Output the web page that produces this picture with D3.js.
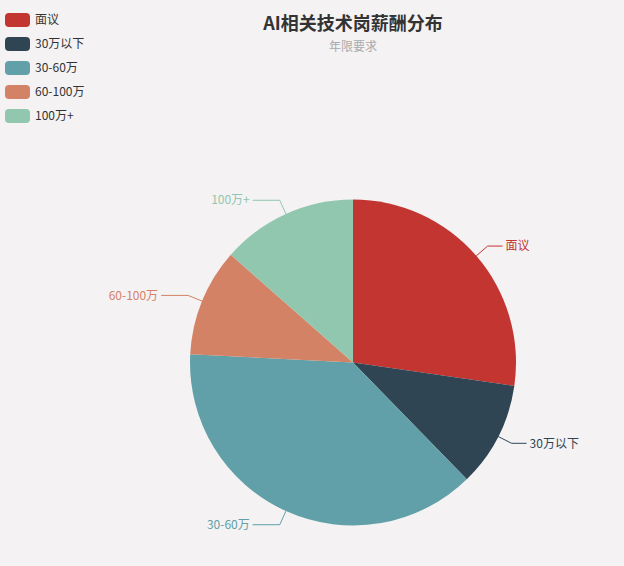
<!DOCTYPE html>
<html>
<head>
<meta charset="utf-8">
<script src="https://cdn.jsdelivr.net/npm/d3@7"></script>
<style>
  html, body { margin: 0; padding: 0; background: #f4f2f3; }
  svg { display: block; font-family: "Microsoft YaHei", "Noto Sans CJK SC", sans-serif; }
</style>
</head>
<body>
<div class="chartContainer"></div>
<script>
// Data
var categories = ["面议", "30万以下", "30-60万", "60-100万", "100万+"];
var values = [27.3, 10.4, 38.1, 10.7, 13.5];
var colors = ["#c23531", "#2f4554", "#61a0a8", "#d48265", "#91c7ae"];

const W = 624;
const H = 566;
const CX = 353;
const CY = 362.5;
const R = 163;

const svg = d3.select(".chartContainer")
  .append("svg")
  .attr("width", W)
  .attr("height", H);

svg.append("rect").attr("width", W).attr("height", H).attr("fill", "#f4f2f3");

// Title
svg.append("text")
  .attr("x", 353).attr("y", 30)
  .attr("text-anchor", "middle")
  .attr("font-size", 18).attr("font-weight", "bold")
  .attr("fill", "#333")
  .text("AI相关技术岗薪酬分布");
svg.append("text")
  .attr("x", 353).attr("y", 51)
  .attr("text-anchor", "middle")
  .attr("font-size", 12)
  .attr("fill", "#aaa")
  .text("年限要求");

// Legend
var legend = svg.append("g").attr("id", "legend");
legend.selectAll("rect")
  .data(categories)
  .enter()
  .append("rect")
  .attr("x", 5)
  .attr("y", (d, i) => 13 + i * 24)
  .attr("width", 25).attr("height", 14)
  .attr("rx", 4)
  .attr("fill", (d, i) => colors[i]);
legend.selectAll("text")
  .data(categories)
  .enter()
  .append("text")
  .attr("x", 35)
  .attr("y", (d, i) => 20 + i * 24)
  .attr("dy", "0.35em")
  .attr("font-size", 12)
  .attr("fill", "#333")
  .text(d => d);

// Pie
var pie = d3.pie().sort(null).value(d => d);
var arcs = pie(values);
var arc = d3.arc().innerRadius(0).outerRadius(R);

var g = svg.append("g").attr("transform", "translate(" + CX + "," + CY + ")");
g.selectAll("path")
  .data(arcs)
  .enter()
  .append("path")
  .attr("d", arc)
  .attr("fill", (d, i) => colors[i]);

// Labels with leader lines
var labels = g.append("g");
arcs.forEach((d, i) => {
  var a = (d.startAngle + d.endAngle) / 2;
  var sx = Math.sin(a), sy = -Math.cos(a);
  var p0 = [sx * R, sy * R];
  var p1 = [sx * (R + 15), sy * (R + 15)];
  var dir = sx >= 0 ? 1 : -1;
  var p2 = [p1[0] + dir * (dir > 0 ? 15 : 27), p1[1]];
  labels.append("polyline")
    .attr("points", [p0, p1, p2].map(p => p.join(",")).join(" "))
    .attr("fill", "none")
    .attr("stroke", colors[i])
    .attr("stroke-width", 1);
  labels.append("text")
    .attr("x", p2[0] + dir * 3)
    .attr("y", p2[1])
    .attr("dy", "0.35em")
    .attr("text-anchor", dir > 0 ? "start" : "end")
    .attr("font-size", 12)
    .attr("fill", colors[i])
    .text(categories[i]);
});
</script>
</body>
</html>
